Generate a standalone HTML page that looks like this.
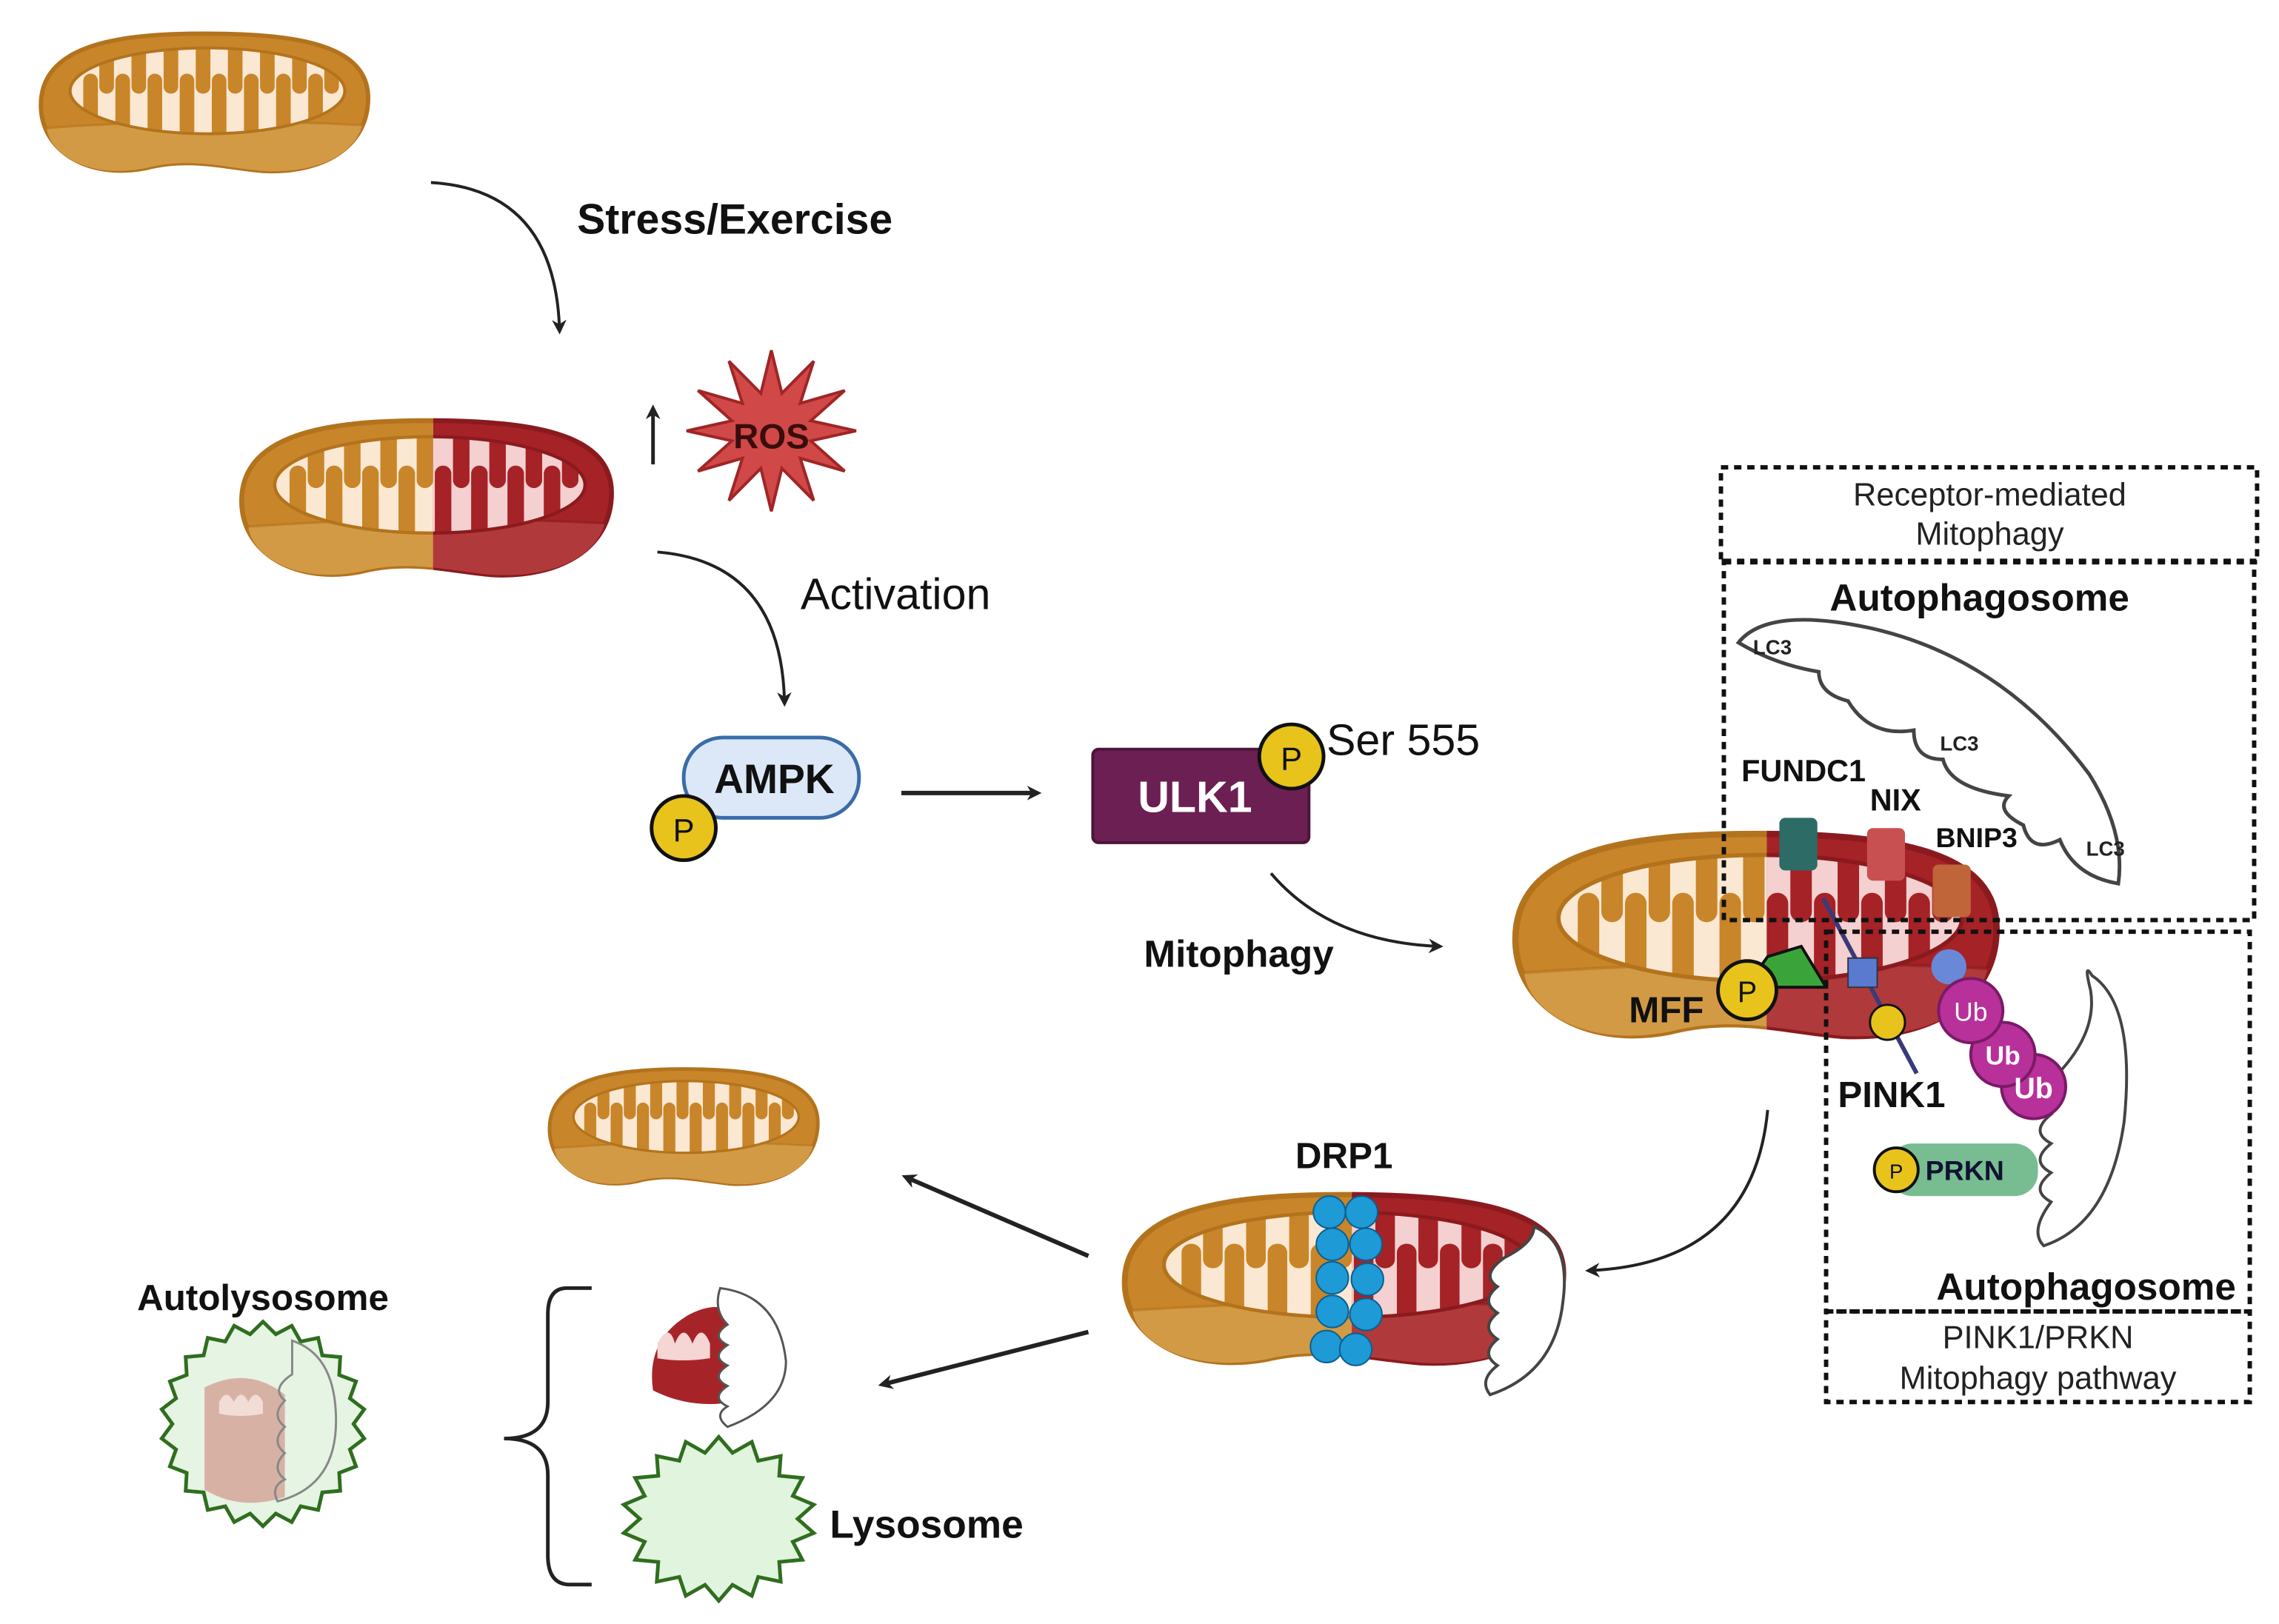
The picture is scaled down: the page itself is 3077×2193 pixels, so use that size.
<!DOCTYPE html>
<html><head><meta charset="utf-8"><style>
html,body{margin:0;padding:0;background:#fff}
svg{display:block}
text{font-family:"Liberation Sans",sans-serif}
</style></head><body>
<svg id="s" width="3077" height="2193" viewBox="0 0 1560 1112" preserveAspectRatio="none" xmlns="http://www.w3.org/2000/svg">
<defs>
<marker id="ah" markerWidth="10" markerHeight="10" refX="7" refY="5" orient="auto" markerUnits="userSpaceOnUse"><path d="M0,0 L10,5 L0,10 L3,5 z" fill="#222"/></marker>
</defs>
<g id="mitos"></g>

<path d="M295,125 Q380,130 383,226" fill="none" stroke="#222" stroke-width="2" marker-end="url(#ah)"/>
<text x="395" y="160" font-size="29" font-weight="bold" fill="#111">Stress/Exercise</text>

<line x1="447" y1="318" x2="447" y2="280" stroke="#222" stroke-width="2.5" marker-end="url(#ah)"/>
<polygon id="ros" fill="#d04848" stroke="#a02525" stroke-width="2"/>
<text x="528" y="307" font-size="24" font-weight="bold" text-anchor="middle" fill="#3a0d0d">ROS</text>

<path d="M450,378 Q535,385 537,481" fill="none" stroke="#222" stroke-width="2" marker-end="url(#ah)"/>
<text x="548" y="417" font-size="30" fill="#111">Activation</text>

<rect x="468" y="505" width="120" height="55" rx="27" fill="#dce8f8" stroke="#3a6ca8" stroke-width="2.5"/>
<text x="530" y="543" font-size="28" font-weight="bold" text-anchor="middle" fill="#111">AMPK</text>
<circle cx="468" cy="567" r="22" fill="#e8c31c" stroke="#111" stroke-width="2.5"/>
<text x="468" y="576" font-size="22" text-anchor="middle" fill="#111">P</text>
<line x1="617" y1="543" x2="710" y2="543" stroke="#222" stroke-width="3" marker-end="url(#ah)"/>

<rect x="748" y="513" width="148" height="64" rx="4" fill="#6b1f52" stroke="#4d1439" stroke-width="2"/>
<text x="818" y="556" font-size="30" font-weight="bold" text-anchor="middle" fill="#fff">ULK1</text>
<circle cx="884" cy="518" r="22" fill="#e8c31c" stroke="#111" stroke-width="2.5"/>
<text x="884" y="527" font-size="22" text-anchor="middle" fill="#111">P</text>
<text x="908" y="517" font-size="30" fill="#111">Ser 555</text>

<path d="M870,598 Q910,645 985,648" fill="none" stroke="#222" stroke-width="2" marker-end="url(#ah)"/>
<text x="783" y="662" font-size="26" font-weight="bold" fill="#111">Mitophagy</text>

<g id="over">
<rect x="1218" y="560" width="26" height="36" rx="4" fill="#2c6b66"/>
<rect x="1278" y="567" width="26" height="36" rx="4" fill="#c95050"/>
<rect x="1323" y="592" width="26" height="36" rx="4" fill="#c0643a"/>
<polygon points="1210,655 1233,648 1250,676 1195,676" fill="#3aa43a" stroke="#111" stroke-width="2"/>
<circle cx="1196" cy="678" r="20" fill="#e8c31c" stroke="#111" stroke-width="2.5"/>
<text x="1196" y="686" font-size="20" text-anchor="middle" fill="#111">P</text>
<text x="1115" y="700" font-size="25" font-weight="bold" fill="#111">MFF</text>
<line x1="1248" y1="615" x2="1312" y2="735" stroke="#3a3a7a" stroke-width="3"/>
<rect x="1265" y="656" width="20" height="20" fill="#5a7ad0" stroke="#334" stroke-width="1"/>
<circle cx="1292" cy="700" r="12" fill="#e8c31c" stroke="#111" stroke-width="1.5"/>
<circle cx="1334" cy="662" r="12" fill="#6a88d8"/>
<path d="M1432,668 q30,20 22,100 q-10,70 -55,85 q-10,-10 5,-30 q-15,-8 0,-20 q-15,-8 0,-20 q-15,-8 0,-20 q-15,-8 2,-25 q30,-30 25,-60 q-5,-20 1,-10 z" fill="#fff" stroke="#444" stroke-width="2"/>
<circle cx="1392" cy="744" r="22" fill="#b8309a" stroke="#7a1a66" stroke-width="2"/>
<circle cx="1371" cy="722" r="22" fill="#b8309a" stroke="#7a1a66" stroke-width="2"/>
<circle cx="1349" cy="692" r="22" fill="#b8309a" stroke="#7a1a66" stroke-width="2"/>
<text x="1349" y="699" font-size="18" text-anchor="middle" fill="#fff">Ub</text>
<text x="1371" y="729" font-size="18" font-weight="bold" text-anchor="middle" fill="#fff">Ub</text>
<text x="1392" y="752" font-size="20" font-weight="bold" text-anchor="middle" fill="#fff">Ub</text>
<text x="1258" y="758" font-size="25" font-weight="bold" fill="#111">PINK1</text>
<rect x="1293" y="783" width="102" height="36" rx="16" fill="#5fb27e" opacity="0.85"/>
<circle cx="1298" cy="801" r="15" fill="#e8c31c" stroke="#111" stroke-width="2"/>
<text x="1298" y="807" font-size="14" text-anchor="middle" fill="#111">P</text>
<text x="1318" y="808" font-size="19" font-weight="bold" fill="#113">PRKN</text>
<path d="M1190,440 q20,-25 90,-10 q90,20 150,100 q25,40 20,75 q-30,-5 -40,-30 q-20,10 -25,-10 q-20,-10 -10,-20 q-40,-5 -45,-25 q-20,0 -20,-20 q-30,5 -45,-20 q-20,-5 -20,-20 q-30,-5 -55,-20 z" fill="#fff" stroke="#444" stroke-width="2.5"/>
<text x="1200" y="448" font-size="14" font-weight="bold" fill="#222">LC3</text>
<text x="1328" y="514" font-size="14" font-weight="bold" fill="#222">LC3</text>
<text x="1428" y="586" font-size="14" font-weight="bold" fill="#222">LC3</text>
<text x="1192" y="535" font-size="21" font-weight="bold" fill="#111">FUNDC1</text>
<text x="1280" y="555" font-size="21" font-weight="bold" fill="#111">NIX</text>
<text x="1325" y="580" font-size="19" font-weight="bold" fill="#111">BNIP3</text>
<text x="1355" y="418" font-size="26" font-weight="bold" text-anchor="middle" fill="#111">Autophagosome</text>
<text x="1428" y="890" font-size="26" font-weight="bold" text-anchor="middle" fill="#111">Autophagosome</text>
<g fill="none" stroke="#111" stroke-width="3" stroke-dasharray="5,4">
<rect x="1178" y="320" width="367" height="65"/>
<rect x="1180" y="384" width="363" height="246"/>
<rect x="1250" y="638" width="290" height="260"/>
<rect x="1250" y="898" width="290" height="62"/>
</g>
<text x="1362" y="346" font-size="22" text-anchor="middle" fill="#222">Receptor-mediated</text>
<text x="1362" y="373" font-size="22" text-anchor="middle" fill="#222">Mitophagy</text>
<text x="1395" y="923" font-size="22" text-anchor="middle" fill="#222">PINK1/PRKN</text>
<text x="1395" y="951" font-size="22" text-anchor="middle" fill="#222">Mitophagy pathway</text>

<path d="M1210,760 Q1200,865 1088,870" fill="none" stroke="#222" stroke-width="2" marker-end="url(#ah)"/>

<g fill="#1e9ad6" stroke="#0b5f8f" stroke-width="1">
<circle cx="910" cy="830" r="11"/><circle cx="932" cy="830" r="11"/>
<circle cx="912" cy="852" r="11"/><circle cx="935" cy="852" r="11"/>
<circle cx="912" cy="875" r="11"/><circle cx="936" cy="876" r="11"/>
<circle cx="912" cy="898" r="11"/><circle cx="935" cy="900" r="11"/>
<circle cx="908" cy="922" r="11"/><circle cx="928" cy="924" r="11"/>
</g>
<path d="M1050,840 q25,10 20,50 q-5,50 -50,65 q-8,-10 5,-20 q-12,-8 0,-18 q-12,-8 0,-18 q-12,-8 0,-18 q-12,-8 5,-20 q20,-10 20,-21 z" fill="#fff" stroke="#444" stroke-width="2"/>
<text x="920" y="800" font-size="25" font-weight="bold" text-anchor="middle" fill="#111">DRP1</text>

<line x1="745" y1="860" x2="620" y2="806" stroke="#222" stroke-width="3" marker-end="url(#ah)"/>
<line x1="745" y1="912" x2="604" y2="948" stroke="#222" stroke-width="3" marker-end="url(#ah)"/>

<text x="180" y="897" font-size="25" font-weight="bold" text-anchor="middle" fill="#111">Autolysosome</text>
<polygon id="autol" fill="#e6f4e4" stroke="#2f6e1f" stroke-width="2.5"/>
<path d="M140,950 q30,-15 55,5 l0,70 q-30,10 -55,-5 z" fill="#d4a095" opacity="0.8"/>
<path d="M150,960 q5,-10 10,0 q5,-10 10,0 q5,-10 10,0 l0,8 q-15,3 -30,0 z" fill="#f2dcd6"/>
<path d="M200,918 q30,10 30,55 q0,45 -40,55 q-5,-10 5,-15 q-10,-8 0,-18 q-10,-8 0,-18 q-10,-8 0,-18 q-10,-8 5,-18 z" fill="none" stroke="#888" stroke-width="1.5"/>

<path d="M405,882 L388,882 Q375,882 375,900 L375,960 Q375,985 345,985 Q375,985 375,1010 L375,1065 Q375,1085 390,1085 L405,1085" fill="none" stroke="#222" stroke-width="2.5"/>

<path d="M472,900 q20,-10 30,0 l0,60 q-30,5 -55,-8 q-5,-35 25,-52 z" fill="#a62428"/>
<path d="M450,920 q8,-15 12,0 q6,-15 12,0 q6,-15 12,0 l0,10 q-20,3 -36,0 z" fill="#f6d5d5"/>
<path d="M493,882 q40,5 45,50 q0,30 -40,45 q-10,-8 0,-14 q-12,-6 0,-14 q-12,-6 0,-14 q-12,-6 0,-14 q-12,-6 0,-14 q-10,-10 -5,-25 z" fill="#fff" stroke="#555" stroke-width="1.5"/>

<polygon id="lyso" fill="#e1f4de" stroke="#2f6e1f" stroke-width="2.5"/>
<text x="568" y="1053" font-size="27" font-weight="bold" fill="#111">Lysosome</text>
</g>
</svg>
<script>
function star(id,cx,cy,ro,ri,n,sy){var p=[];for(var i=0;i<2*n;i++){var a=Math.PI*i/n-Math.PI/2;var r=i%2?ri:ro;p.push((cx+r*Math.cos(a)).toFixed(1)+","+(cy+r*Math.sin(a)*(sy||1)).toFixed(1));}document.getElementById(id).setAttribute("points",p.join(" "));}
star("ros",528,295,58,28,12,0.95);
star("autol",180,975,70,62,22,1.0);
star("lyso",492,1040,66,54,18,0.85);
var O={body:"#c8852a",low:"#d39a45",cream:"#fbe8d2",edge:"#b3731d"};
var R={body:"#a52227",low:"#b0393b",cream:"#f5d0d0",edge:"#8a1a1e"};
var cid=0;
function build(c){
 var k='e'+(cid++);
 var s='<path d="M-112,0 C-112,-42 -60,-50 0,-50 C70,-50 112,-40 112,-5 C112,30 80,48 40,46 C15,44 -10,36 -40,44 C-80,52 -112,32 -112,0 Z" fill="'+c.body+'" stroke="'+c.edge+'" stroke-width="3"/>';
 s+='<path d="M-108,16 Q0,8 108,14 C102,36 75,48 40,46 C15,44 -10,36 -40,44 C-80,52 -106,34 -108,16 Z" fill="'+c.low+'"/>';
 s+='<path d="M-108,16 Q0,8 108,14" fill="none" stroke="'+c.edge+'" stroke-width="1.5" opacity="0.6"/>';
 s+='<clipPath id="'+k+'"><ellipse cx="2" cy="-10" rx="94" ry="30"/></clipPath>';
 s+='<ellipse cx="2" cy="-10" rx="94" ry="30" fill="'+c.cream+'"/>';
 s+='<g clip-path="url(#'+k+')">';
 for(var i=0;i<8;i++){var x=-78+i*22;
  s+='<rect x="'+(x-5)+'" y="-22" width="10" height="50" rx="5" fill="'+c.body+'"/>';
  s+='<rect x="'+(x+6)+'" y="-60" width="10" height="52" rx="5" fill="'+c.body+'"/>';}
 s+='</g><ellipse cx="2" cy="-10" rx="94" ry="30" fill="none" stroke="'+c.edge+'" stroke-width="2"/>';
 return s;}
var cnt=0;
function mito(cx,cy,sx,sy,split){
 var id='c'+(cnt++);var s='<g transform="translate('+cx+','+cy+') scale('+sx+','+sy+')">';
 if(split===null){s+=build(O);}
 else{s+='<clipPath id="'+id+'l"><rect x="-130" y="-70" width="'+(split+130)+'" height="140"/></clipPath><clipPath id="'+id+'r"><rect x="'+split+'" y="-70" width="200" height="140"/></clipPath>';
  s+='<g clip-path="url(#'+id+'l)">'+build(O)+'</g><g clip-path="url(#'+id+'r)">'+build(R)+'</g>';}
 return s+'</g>';}
var h='';
h+=mito(140,72,1.0,0.98,null);
h+=mito(292,343,1.13,1.1,4);
h+=mito(1202,643,1.47,1.44,5);
h+=mito(920,878,1.34,1.2,4);
h+=mito(468,773,0.82,0.82,null);
document.getElementById("mitos").innerHTML=h;
</script>
</body></html>
